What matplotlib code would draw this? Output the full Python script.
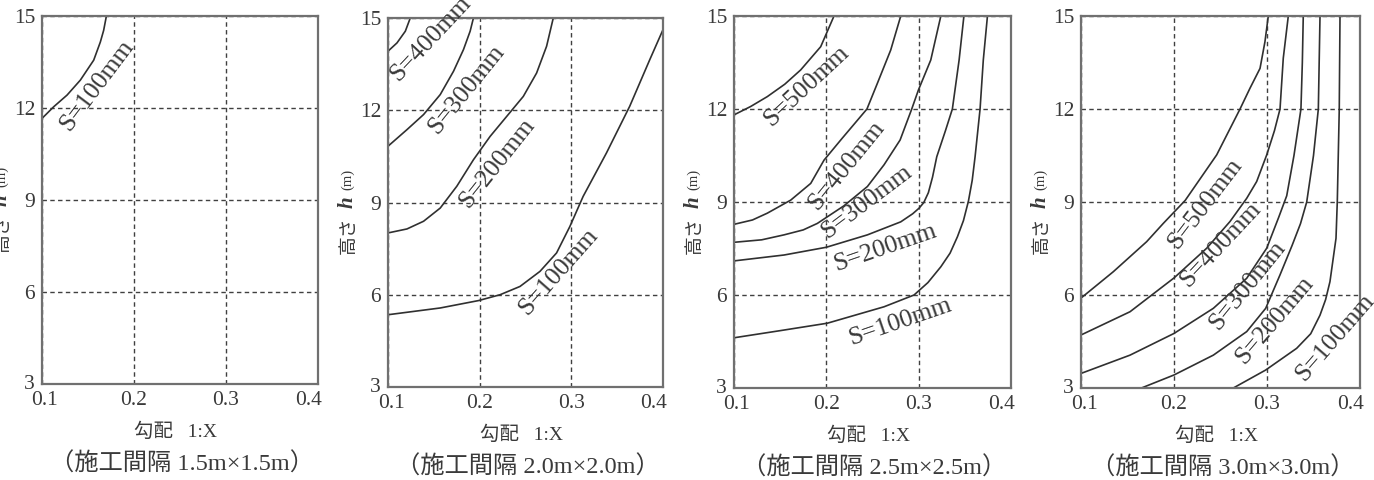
import matplotlib
matplotlib.use("Agg")
import matplotlib.pyplot as plt
from matplotlib import transforms

# ---------------- data ----------------
x_ticks = [0.1, 0.2, 0.3, 0.4]
y_ticks = [3, 6, 9, 12, 15]
x_ticklabels = ["0.1", "0.2", "0.3", "0.4"]
y_ticklabels = ["3", "6", "9", "12", "15"]
captions = ["（施工間隔 1.5m×1.5m）", "（施工間隔 2.0m×2.0m）",
            "（施工間隔 2.5m×2.5m）", "（施工間隔 3.0m×3.0m）"]
xlabel_text = "勾配   1:X"

# Panel 1 (1.5m x 1.5m)
p1_s100_x = [0.1, 0.1127, 0.1272, 0.1417, 0.1562, 0.1634, 0.167, 0.170]
p1_s100_y = [11.66, 12.04, 12.42, 12.91, 13.56, 14.15, 14.53, 15.0]

# Panel 2 (2.0m x 2.0m)
p2_s100_x = [0.1, 0.157, 0.1987, 0.2222, 0.244, 0.2658, 0.2839, 0.2984, 0.3129, 0.3383, 0.3637, 0.3855, 0.4]
p2_s100_y = [5.35, 5.57, 5.81, 6.0, 6.27, 6.76, 7.36, 8.22, 9.2, 10.61, 12.13, 13.64, 14.62]
p2_s200_x = [0.1, 0.1207, 0.1388, 0.157, 0.1751, 0.1932, 0.2114, 0.2295, 0.2476, 0.2621, 0.273, 0.2803]
p2_s200_y = [8.01, 8.14, 8.39, 8.82, 9.53, 10.39, 11.15, 11.8, 12.45, 13.21, 14.08, 15.0]
p2_s300_x = [0.1, 0.1207, 0.1388, 0.157, 0.1715, 0.1823, 0.1896, 0.1932]
p2_s300_y = [10.83, 11.37, 11.86, 12.51, 13.27, 13.97, 14.57, 15.0]
p2_s400_x = [0.1, 0.1098, 0.1189, 0.1243]
p2_s400_y = [13.92, 14.19, 14.57, 15.0]

# Panel 3 (2.5m x 2.5m)
p3_s500_x = [0.1, 0.118, 0.1361, 0.1550, 0.1722, 0.1939, 0.2083]
p3_s500_y = [11.81, 12.08, 12.4, 12.8, 13.26, 14.01, 15.0]
p3_s400_x = [0.1, 0.1200, 0.1361, 0.1614, 0.1831, 0.1975, 0.2170, 0.2440, 0.2553, 0.2697, 0.2806]
p3_s400_y = [8.28, 8.42, 8.64, 9.06, 9.6, 10.35, 11.05, 12.0, 12.83, 13.9, 15.0]
p3_s300_x = [0.1, 0.1300, 0.1542, 0.1750, 0.1903, 0.2192, 0.2445, 0.2625, 0.2799, 0.2925, 0.2997, 0.3131, 0.324]
p3_s300_y = [7.7, 7.78, 7.94, 8.1, 8.31, 8.88, 9.5, 10.2, 11.0, 12.0, 12.61, 13.58, 15.0]
p3_s200_x = [0.1, 0.1542, 0.2, 0.2445, 0.2806, 0.2935, 0.3004, 0.3055, 0.3105, 0.3150, 0.3196, 0.3290, 0.3365, 0.3438, 0.349]
p3_s200_y = [7.1, 7.29, 7.54, 7.94, 8.36, 8.62, 8.8, 8.98, 9.3, 9.8, 10.46, 11.3, 12.0, 13.58, 15.0]
p3_s100_x = [0.1, 0.15, 0.2011, 0.2625, 0.295, 0.3100, 0.324, 0.3340, 0.342, 0.3485, 0.3539, 0.3580, 0.3611, 0.3665, 0.370, 0.3745]
p3_s100_y = [4.62, 4.85, 5.09, 5.62, 6.0, 6.4, 6.91, 7.35, 7.88, 8.4, 9.03, 9.7, 10.46, 12.0, 13.58, 15.0]

# Panel 4 (3.0m x 3.0m)
p4_s500_x = [0.1, 0.1347, 0.1706, 0.1885, 0.212, 0.2459, 0.271, 0.2817, 0.2925, 0.2978, 0.3014]
p4_s500_y = [5.9, 6.75, 7.72, 8.31, 9.05, 10.52, 12.0, 12.67, 13.31, 14.17, 15.0]
p4_s400_x = [0.1, 0.1527, 0.2, 0.2352, 0.2602, 0.2782, 0.2889, 0.2997, 0.308, 0.314, 0.3175, 0.3229]
p4_s400_y = [4.71, 5.46, 6.55, 7.51, 8.37, 9.12, 9.66, 10.52, 11.3, 12.0, 13.64, 15.0]
p4_s300_x = [0.1, 0.1527, 0.2, 0.2423, 0.2782, 0.2997, 0.3125, 0.3212, 0.329, 0.3365, 0.338, 0.339]
p4_s300_y = [3.47, 4.06, 4.76, 5.57, 6.54, 7.51, 8.5, 9.2, 10.5, 12.0, 13.5, 15.0]
p4_s200_x = [0.165, 0.2, 0.2423, 0.2782, 0.2986, 0.314, 0.327, 0.3360, 0.3427, 0.35, 0.3552, 0.357]
p4_s200_y = [3.0, 3.42, 4.06, 4.82, 5.57, 6.65, 7.6, 8.3, 9.0, 10.5, 12.0, 15.0]
p4_s100_x = [0.2638, 0.2986, 0.3319, 0.3470, 0.357, 0.3630, 0.3677, 0.3742, 0.3756, 0.3777, 0.3785]
p4_s100_y = [3.0, 3.58, 4.28, 4.75, 5.35, 5.85, 6.43, 7.83, 9.03, 12.0, 15.0]

curve_labels = {
    0: [("S=100mm", 0.160, 12.74, 53)],
    1: [("S=400mm", 0.146, 14.32, 47), ("S=300mm", 0.186, 12.67, 51),
        ("S=200mm", 0.2193, 10.28, 51.5), ("S=100mm", 0.2857, 6.76, 48.5)],
    2: [("S=500mm", 0.1788, 12.75, 43), ("S=400mm", 0.2221, 10.19, 51),
        ("S=300mm", 0.2438, 9.01, 37), ("S=200mm", 0.2636, 7.51, 19),
        ("S=100mm", 0.2798, 5.14, 19)],
    3: [("S=500mm", 0.2333, 8.94, 52.6), ("S=400mm", 0.2495, 7.61, 47),
        ("S=300mm", 0.2788, 6.32, 51), ("S=200mm", 0.3086, 5.19, 49.6),
        ("S=100mm", 0.3731, 4.64, 49)],
}

curves = [
    [(p1_s100_x, p1_s100_y)],
    [(p2_s100_x, p2_s100_y), (p2_s200_x, p2_s200_y), (p2_s300_x, p2_s300_y), (p2_s400_x, p2_s400_y)],
    [(p3_s100_x, p3_s100_y), (p3_s200_x, p3_s200_y), (p3_s300_x, p3_s300_y),
     (p3_s400_x, p3_s400_y), (p3_s500_x, p3_s500_y)],
    [(p4_s100_x, p4_s100_y), (p4_s200_x, p4_s200_y), (p4_s300_x, p4_s300_y),
     (p4_s400_x, p4_s400_y), (p4_s500_x, p4_s500_y)],
]

# ---------------- layout / style ----------------
W, H = 1374, 480
SERIF = ["Liberation Serif", "Noto Sans CJK JP", "DejaVu Sans"]
CJK = ["Noto Sans CJK JP", "DejaVu Sans"]
TXT = "#3a3a3a"
LINE = "#303030"
SPINE = "#707070"
GRID = "#404040"

# axes boxes in pixels: left, right, top, bottom
boxes = [(42, 318, 16, 384), (388, 663, 18, 387), (734, 1011, 16, 388), (1081, 1360, 16, 388)]

fig = plt.figure(figsize=(W / 100, H / 100), dpi=100)
fig.patch.set_facecolor("white")

for i, (l, r, t, b) in enumerate(boxes):
    ax = fig.add_axes([l / W, (H - b) / H, (r - l) / W, (b - t) / H])
    ax.set_xlim(0.1, 0.4)
    ax.set_ylim(3, 15)
    ax.set_xticks(x_ticks)
    ax.set_yticks(y_ticks)
    ax.set_xticklabels(x_ticklabels, family=SERIF, fontsize=15.5, color=TXT)
    ax.set_yticklabels(y_ticklabels, family=SERIF, fontsize=15.5, color=TXT)
    ax.tick_params(length=0, pad=5)
    xt = ax.get_xticklabels()
    xt[-1].set_transform(xt[-1].get_transform() + transforms.ScaledTranslation(-9 / 100, 0, fig.dpi_scale_trans))
    xt[0].set_transform(xt[0].get_transform() + transforms.ScaledTranslation(3 / 100, 0, fig.dpi_scale_trans))
    yt = ax.get_yticklabels()
    yt[0].set_transform(yt[0].get_transform() + transforms.ScaledTranslation(0, 2 / 100, fig.dpi_scale_trans))
    for s in ax.spines.values():
        s.set_color(SPINE)
        s.set_linewidth(1.6)
    ax.grid(True, linestyle=(0, (3.2, 2.4)), color=GRID, linewidth=1.0)
    ax.set_axisbelow(True)

    for cx, cy in curves[i]:
        ax.plot(cx, cy, color=LINE, linewidth=1.2, clip_on=True,
                solid_joinstyle="round")

    for txt, lx, ly, rot in curve_labels[i]:
        ax.text(lx, ly, txt, family=SERIF, fontsize=18.5, color=TXT, rotation=rot,
                rotation_mode="anchor", ha="center", va="center", clip_on=False)

    # y label pieces: 高さ h (m)
    tr = transforms.offset_copy(ax.transAxes, fig=fig, x=-40, y=0, units="dots")
    t1 = ax.text(0, 0.36, "高さ", transform=tr, rotation=90, ha="center", va="bottom",
                 family=CJK, fontsize=13.5, color=TXT)
    t2 = ax.annotate("h", xy=(0.5, 1.0), xycoords=t1, xytext=(0, 6), textcoords="offset points",
                     rotation=90, ha="center", va="bottom", family=["Liberation Serif"],
                     fontstyle="italic", fontweight="bold", fontsize=15, color=TXT)
    ax.annotate("(m)", xy=(0.5, 1.0), xycoords=t2, xytext=(0, 5), textcoords="offset points",
                rotation=90, ha="center", va="bottom", family=SERIF, fontsize=10.5, color=TXT)

    # x label and caption
    trx = transforms.offset_copy(ax.transAxes, fig=fig, x=-4, y=-48, units="dots")
    ax.text(0.5, 0, xlabel_text, transform=trx, ha="center", va="center",
            family=SERIF, fontsize=14, color=TXT)
    trc = transforms.offset_copy(ax.transAxes, fig=fig, x=2, y=-80, units="dots")
    ax.text(0.5, 0, captions[i], transform=trc, ha="center", va="center",
            family=SERIF, fontsize=17.5, color=TXT)

fig.savefig("out.png", dpi=100, facecolor="white")
